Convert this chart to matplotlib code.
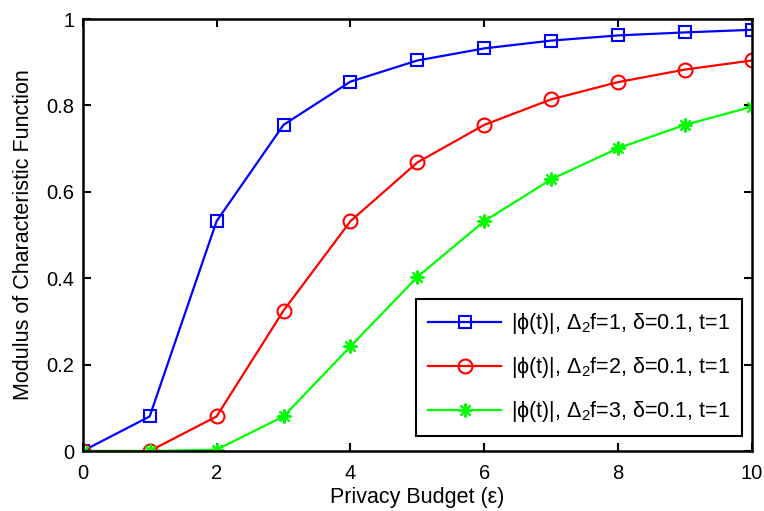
import matplotlib
matplotlib.use("Agg")
import matplotlib.pyplot as plt

plt.rcParams['font.family'] = ['Liberation Sans', 'DejaVu Sans']
plt.rcParams['mathtext.fontset'] = 'custom'
plt.rcParams['mathtext.rm'] = 'Liberation Sans'
plt.rcParams['mathtext.it'] = 'Liberation Sans:italic'

# ====================== data ======================
eps = [0, 1, 2, 3, 4, 5, 6, 7, 8, 9, 10]
phi_d1 = [0.0, 0.080, 0.532, 0.755, 0.855, 0.904, 0.932, 0.950, 0.962, 0.969, 0.975]
phi_d2 = [0.0, 0.0, 0.080, 0.325, 0.532, 0.668, 0.755, 0.814, 0.854, 0.883, 0.904]
phi_d3 = [0.0, 0.0, 0.003, 0.080, 0.242, 0.403, 0.532, 0.629, 0.701, 0.755, 0.797]
labels = [r'|ϕ(t)|, Δ$_2$f=1, δ=0.1, t=1',
          r'|ϕ(t)|, Δ$_2$f=2, δ=0.1, t=1',
          r'|ϕ(t)|, Δ$_2$f=3, δ=0.1, t=1']
xticks = [0, 2, 4, 6, 8, 10]
yticks = [0, 0.2, 0.4, 0.6, 0.8, 1]
yticklabels = ['0', '0.2', '0.4', '0.6', '0.8', '1']

fig = plt.figure(figsize=(7.64, 5.11), dpi=100)
ax = fig.add_axes([0.1083, 0.1174, 0.8760, 0.8454])

ax.plot(eps, phi_d1, color=(0, 0, 1), lw=1.6, marker='s', ms=8, mfc='none', mew=1.5, label=labels[0])
ax.plot(eps, phi_d2, color=(1, 0, 0), lw=1.6, marker='o', ms=10, mfc='none', mew=1.5, label=labels[1])
ax.plot(eps, phi_d3, color=(0, 1, 0), lw=1.6, marker=(8, 2, 0), ms=10, mew=1.5, label=labels[2])

ax.set_xlim(0, 10)
ax.set_ylim(0, 1)
ax.set_xticks(xticks)
ax.set_yticks(yticks)
ax.set_yticklabels(yticklabels)
ax.tick_params(direction='in', length=6, width=1.5, top=True, right=True, labelsize=14.5)
ax.tick_params(axis='x', pad=9)
ax.tick_params(axis='y', pad=6)
for s in ax.spines.values():
    s.set_linewidth(1.8)

ax.set_xlabel('Privacy Budget (ε)', fontsize=15.5, labelpad=3)
ax.set_ylabel('Modulus of Characteristic Function', fontsize=15.5, labelpad=9)

# legend box in the lower right, a little inside the axes
leg = ax.legend(loc='lower right', bbox_to_anchor=(0.985, 0.035), borderaxespad=0,
                fontsize=15.5, handlelength=3.4, handletextpad=0.45,
                fancybox=False, framealpha=1, edgecolor='black',
                labelspacing=0.88, borderpad=0.55)
leg.get_frame().set_linewidth(1.5)

plt.savefig('out.png', dpi=100)
plt.close()
